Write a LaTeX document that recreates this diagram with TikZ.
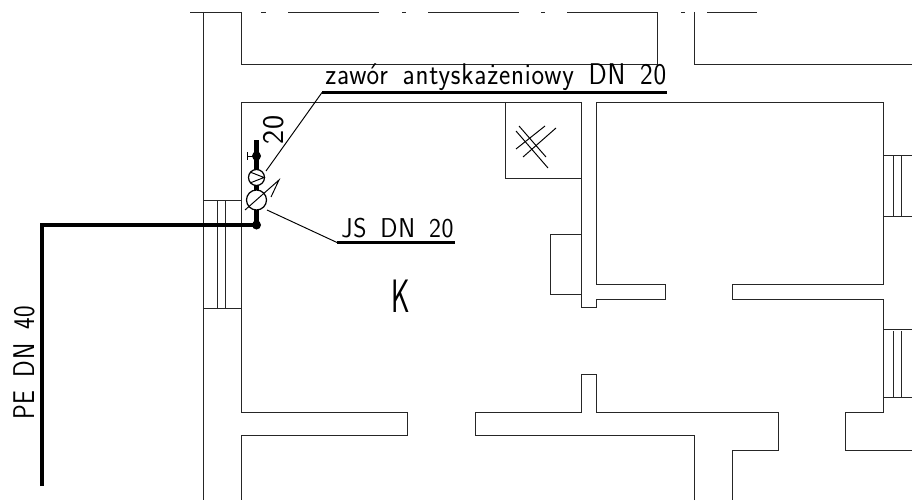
\documentclass[tikz,border=0pt]{standalone}
\usepackage{fontspec}
\setsansfont{Latin Modern Sans}
\newfontfamily\cadfont[LetterSpace=3,WordSpace=1.6]{Latin Modern Sans}
\tikzset{
    wall/.style={line width=0.55pt, black!85},
    pipe/.style={line width=2.3pt},
    leader/.style={line width=0.55pt},
    shelf/.style={line width=1.3pt},
    tag/.style={font=\cadfont\fontsize{15.5}{15.5}\selectfont, inner sep=0pt, anchor=base west}
}

\begin{document}
\begin{tikzpicture}[x=0.02cm, y=-0.02cm]
    \useasboundingbox (0,0) rectangle (912,500);

    % 上方点划线
    \draw[wall] (190,12) -- (241,12);
    \draw[wall] (261,12) -- (266,12);
    \draw[wall] (288,12) -- (379,12);
    \draw[wall] (402,12) -- (406,12);
    \draw[wall] (428,12) -- (519,12);
    \draw[wall] (541,12) -- (545,12);
    \draw[wall] (567,12) -- (657,12);
    \draw[wall] (681,12) -- (685,12);
    \draw[wall] (707,12) -- (757,12);

    % 外墙
    \draw[wall] (203,12) -- (203,500);

    % 上方房间
    \draw[wall] (241,12) -- (241,64) -- (657,64) -- (657,12);
    \draw[wall] (694,12) -- (694,64) -- (912,64);

    % 房间 K
    \draw[wall] (581,102) -- (241,102) -- (241,412) -- (407,412) -- (407,435) -- (241,435) -- (241,500);
    \draw[wall] (694,500) -- (694,435) -- (475,435) -- (475,412) -- (581,412) -- (581,374) -- (596,374) -- (596,412) -- (778,412) -- (778,450) -- (732,450) -- (732,500);

    % 内墙
    \draw[wall] (581,102) -- (581,307) -- (596,307) -- (596,299) -- (665,299) -- (665,284) -- (596,284) -- (596,102) -- (883,102) -- (883,284) -- (732,284) -- (732,299) -- (883,299) -- (883,412) -- (845,412) -- (845,450) -- (912,450);
    \draw[wall] (505,102) -- (505,178) -- (581,178);
    \draw[wall] (581,234) -- (550,234) -- (550,294) -- (581,294);

    % 通风口
    \draw[leader] (516,131) -- (548,168);
    \draw[leader] (519,126) -- (546,157);
    \draw[leader] (516,149) -- (545,126);
    \draw[leader] (523,157) -- (556,128);

    % 左侧窗
    \draw[wall] (203,200) -- (241,200);
    \draw[wall] (203,308) -- (241,308);
    \draw[wall] (217,200) -- (217,308);
    \draw[wall] (225,200) -- (225,308);

    % 右侧窗
    \draw[wall] (883,155) -- (912,155);
    \draw[wall] (883,216) -- (912,216);
    \draw[wall] (893,155) -- (893,216);
    \draw[wall] (901,155) -- (901,216);
    \draw[wall] (883,329) -- (912,329);
    \draw[wall] (883,397) -- (912,397);
    \draw[wall] (893,331) -- (893,397);
    \draw[wall] (901,331) -- (901,397);

    % 管道
    \coordinate (pipeEnd) at (42,486);
    \coordinate (pipeBend) at (42,225);
    \coordinate (pipeTop) at (256.5,140);
    \fill (256.5,225) circle (4.5) coordinate (riser);
    \fill (256.5,156) circle (4.5) coordinate (tapDot);
    \draw[pipe] (pipeEnd) -- (pipeBend) -- (riser) -- (pipeTop);

    % 水表
    \node[circle, draw, fill=white, line width=0.7pt, minimum size=20*0.02cm, inner sep=0pt] (meter) at (256.5,200) {};
    \draw[leader] (245,210) -- (279,180) -- (271,197);

    % 阀门
    \node[circle, draw, fill=white, line width=0.7pt, minimum size=16*0.02cm, inner sep=0pt] (valve) at (256.5,177.5) {};
    \draw[leader] (250,172) -- (264,177.5) -- (250,183);

    % 龙头
    \draw[leader] (tapDot) -- (247,156);
    \draw[leader] (247,152) -- (247,160);

    % 标注
    \node[tag] (valveText) at (325,85) {\scalebox{0.985}[1.1]{zawór antyskażeniowy DN 20}};
    \coordinate (valveKnee) at (322,92.5);
    \coordinate (valveEnd) at (667,92.5);
    \draw[leader] (266,171) -- (valveKnee);
    \draw[shelf] (valveKnee) -- (valveEnd);

    \node[tag] (meterText) at (341,237) {\scalebox{0.93}[1]{JS DN 20}};
    \coordinate (meterKnee) at (337,242.5);
    \coordinate (meterEnd) at (455,242.5);
    \draw[leader] (267,210) -- (meterKnee);
    \draw[shelf] (meterKnee) -- (meterEnd);

    \node[tag, rotate=90] (sizeText) at (283,145) {\scalebox{1.1}[1.1]{20}};
    \node[tag, rotate=90] (pipeText) at (34,420) {\scalebox{0.9}[1.1]{PE DN 40}};
    \node[tag] (roomText) at (391,312) {\scalebox{1.05}[1.72]{K}};
\end{tikzpicture}
\end{document}
